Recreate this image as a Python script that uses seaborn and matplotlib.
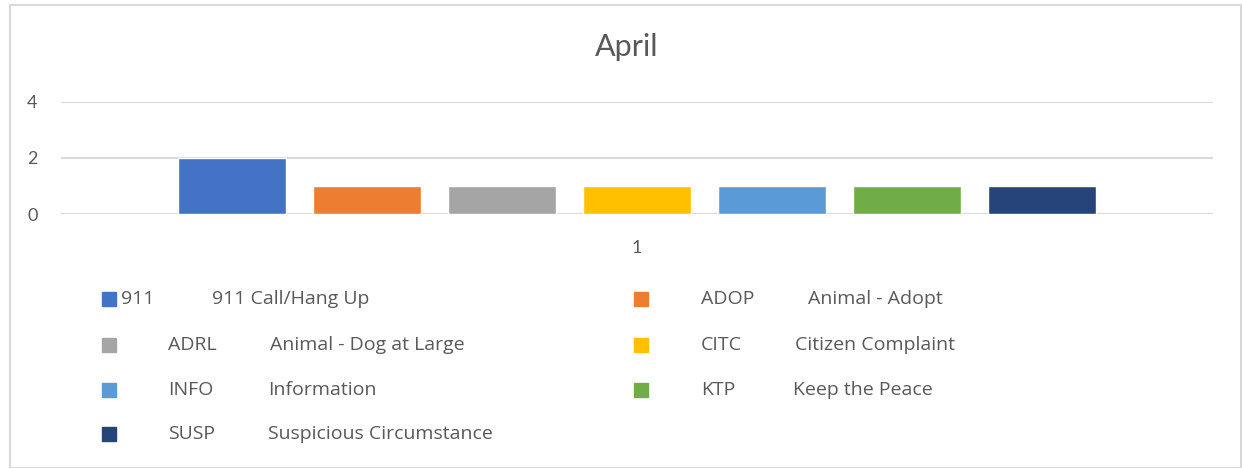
import pandas as pd
import seaborn as sns
import matplotlib.pyplot as plt
from matplotlib.patches import Rectangle

# datos del grafico
categoria = ["1"]
codigos = ["911", "ADOP", "ADRL", "CITC", "INFO", "KTP", "SUSP"]
descripciones = ["911 Call/Hang Up", "Animal - Adopt", "Animal - Dog at Large",
                 "Citizen Complaint", "Information", "Keep the Peace",
                 "Suspicious Circumstance"]
conteos = [2, 1, 1, 1, 1, 1, 1]
colores = ["#4472C4", "#ED7D31", "#A5A5A5", "#FFC000", "#5B9BD5", "#70AD47", "#264478"]
y_ticks = [0, 2, 4]

df = pd.DataFrame({
    "cat": categoria * len(codigos),
    "serie": codigos,
    "valor": conteos,
})

sns.set_theme(style="white")
plt.rcParams["font.family"] = ["Lato", "DejaVu Sans"]
gris = "#595959"
W, H = 1243, 468

fig = plt.figure(figsize=(W / 100, H / 100), dpi=100)
fig.patches.append(Rectangle((9.5 / W, 0), (1241 - 9.5) / W, (H - 4.5) / H,
                             transform=fig.transFigure, fill=False,
                             edgecolor="#d9d9d9", linewidth=1.5))

ax = fig.add_axes([61 / W, (H - 214) / H, (1213 - 61) / W, 112 / H])
sns.barplot(data=df, x="cat", y="valor", hue="serie", palette=colores,
            width=0.82, gap=0.2, saturation=1, legend=False, ax=ax)
ax.set_ylim(0, 4)
ax.set_xlim(-0.5, 0.5)
ax.set_yticks(y_ticks)
ax.set_xlabel("")
ax.set_ylabel("")
ax.grid(axis="y", color="#d9d9d9", linewidth=1.5)
ax.set_axisbelow(True)
for s in ax.spines.values():
    s.set_visible(False)
ax.tick_params(axis="y", length=0, pad=17, labelsize=13, labelcolor=gris)
ax.tick_params(axis="x", length=0, pad=19, labelsize=13, labelcolor=gris)

fig.text(627 / W, 1 - 47 / H, "April", ha="center", va="center",
         fontsize=22, color=gris)

# leyenda manual en dos columnas
filas_y = [299, 345, 390, 434]
pos = [(0, 0), (1, 0), (0, 1), (1, 1), (0, 2), (1, 2), (0, 3)]
marca_x = [102, 634]
texto_x = [(121, 212), (701, 808), (168, 270), (701, 795),
           (168, 268), (701, 793), (168, 268)]
fuente_ley = ["Open Sans", "DejaVu Sans"]
for i, (col, fila) in enumerate(pos):
    yc = filas_y[fila]
    fig.patches.append(Rectangle((marca_x[col] / W, 1 - (yc + 7) / H), 14 / W, 14 / H,
                                 transform=fig.transFigure, color=colores[i]))
    fig.text(texto_x[i][0] / W, 1 - yc / H, codigos[i], ha="left", va="center",
             fontsize=14, color=gris, family=fuente_ley)
    fig.text(texto_x[i][1] / W, 1 - yc / H, descripciones[i], ha="left", va="center",
             fontsize=14, color=gris, family=fuente_ley)

fig.savefig("out.png", dpi=100)
